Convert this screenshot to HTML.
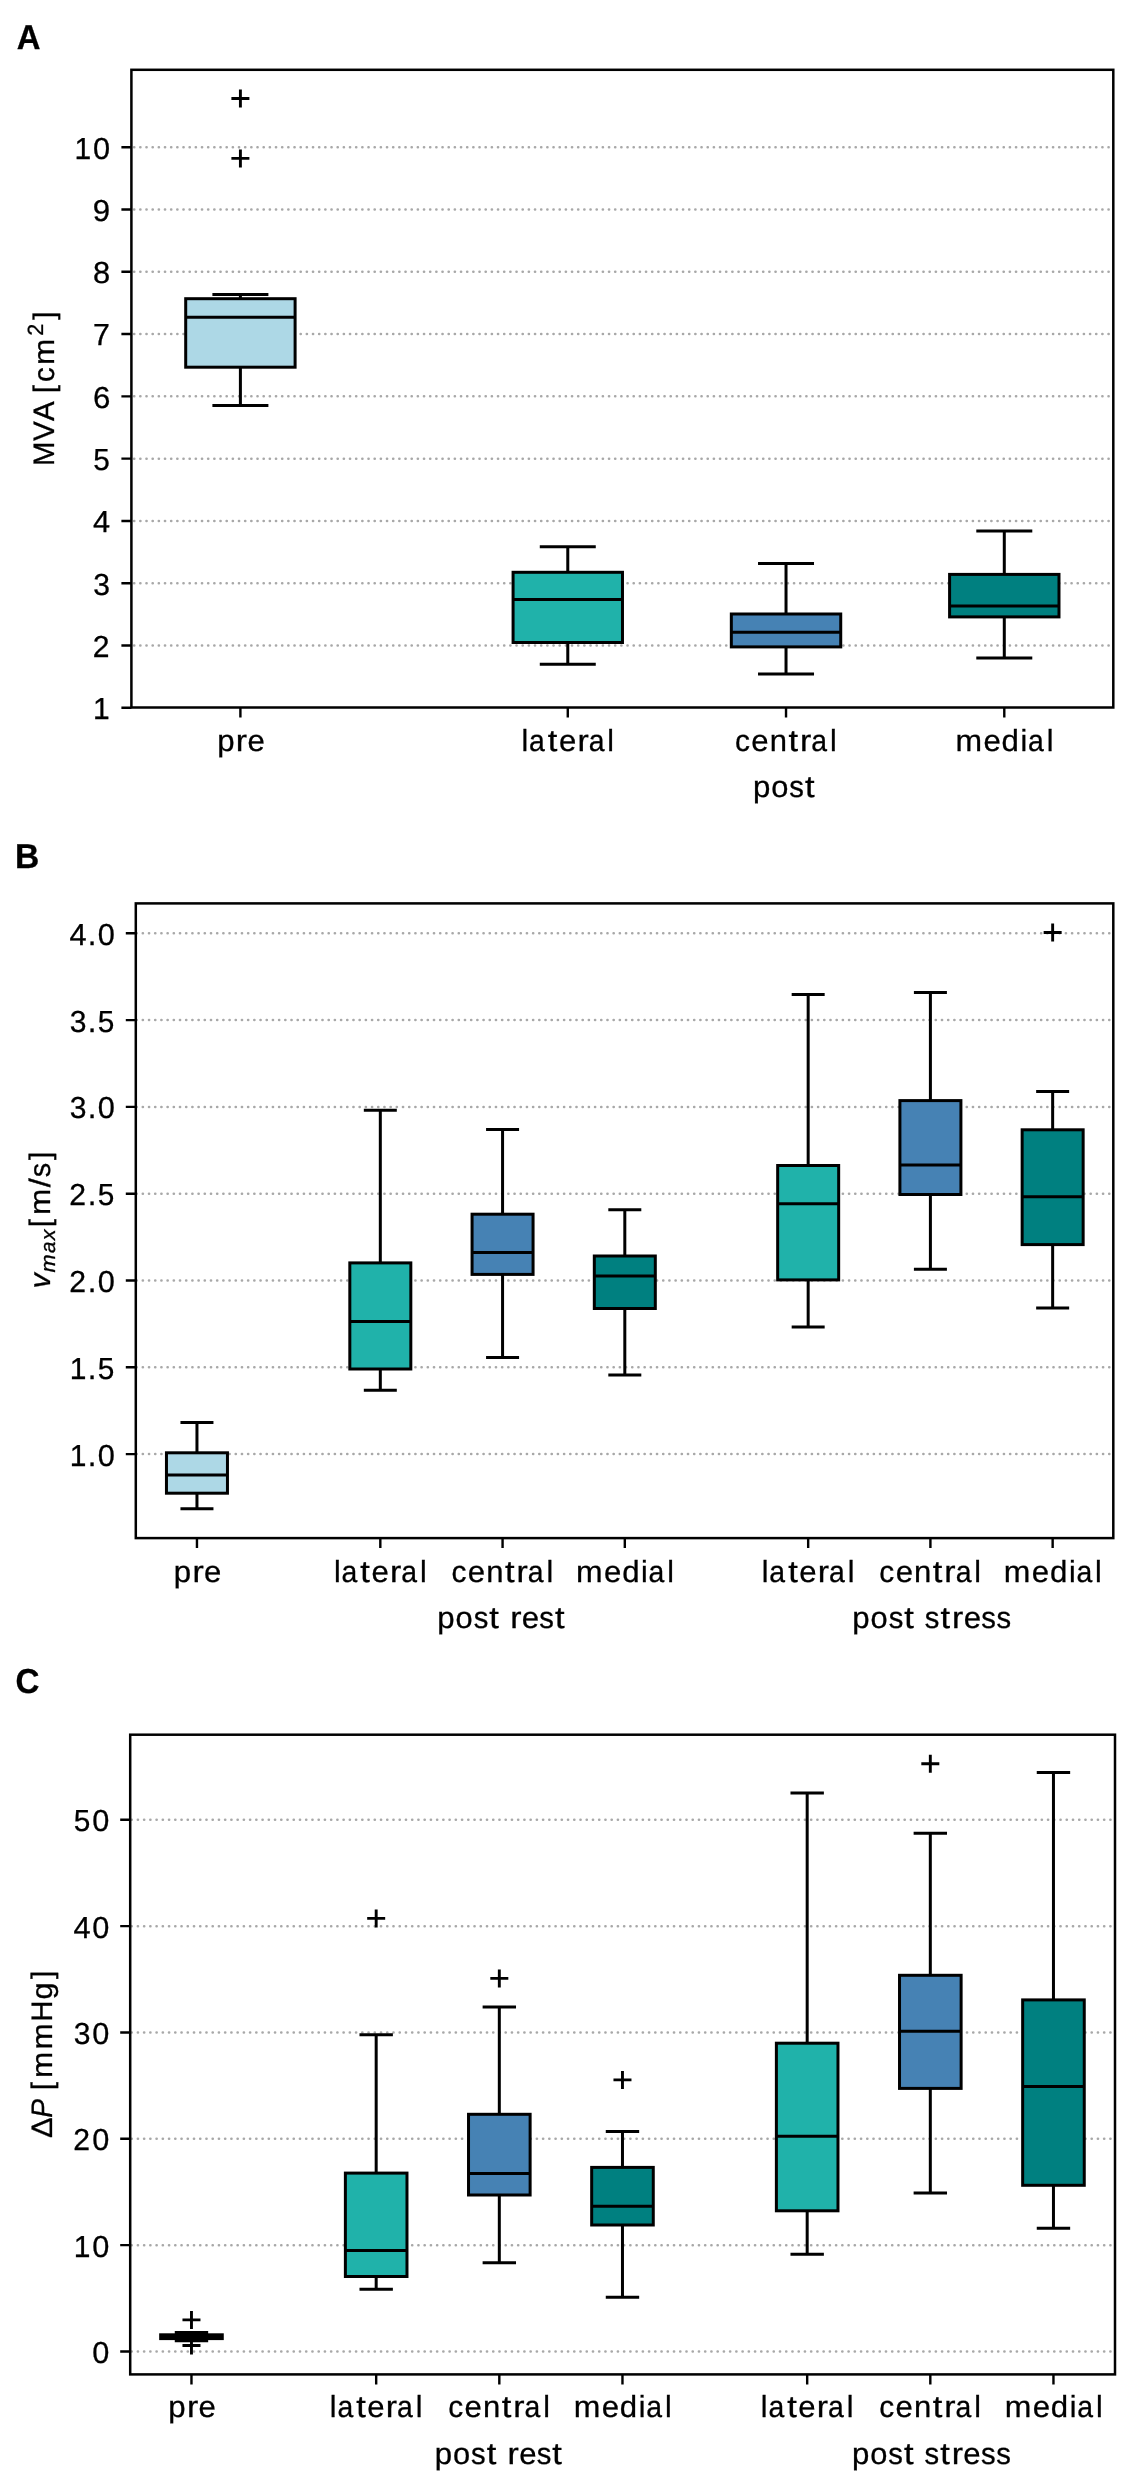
<!DOCTYPE html>
<html><head><meta charset="utf-8"><title>Boxplots</title>
<style>html,body{margin:0;padding:0;background:#fff;}svg{display:block;will-change:transform;} text{font-family:"Liberation Sans", sans-serif;fill:#000;stroke:#000;stroke-width:0.3px;text-rendering:geometricPrecision;}</style>
</head><body>
<svg width="1126" height="2480" viewBox="0 0 1126 2480" font-family="Liberation Sans, sans-serif">
<rect x="0" y="0" width="1126" height="2480" fill="#fff"/>
<line x1="131.40" y1="645.51" x2="1113.30" y2="645.51" stroke="#a8a8a8" stroke-width="2.5" stroke-dasharray="0.2 5.967" stroke-dashoffset="3.476" stroke-linecap="round"/>
<line x1="131.40" y1="583.22" x2="1113.30" y2="583.22" stroke="#a8a8a8" stroke-width="2.5" stroke-dasharray="0.2 5.967" stroke-dashoffset="3.476" stroke-linecap="round"/>
<line x1="131.40" y1="520.93" x2="1113.30" y2="520.93" stroke="#a8a8a8" stroke-width="2.5" stroke-dasharray="0.2 5.967" stroke-dashoffset="3.476" stroke-linecap="round"/>
<line x1="131.40" y1="458.64" x2="1113.30" y2="458.64" stroke="#a8a8a8" stroke-width="2.5" stroke-dasharray="0.2 5.967" stroke-dashoffset="3.476" stroke-linecap="round"/>
<line x1="131.40" y1="396.35" x2="1113.30" y2="396.35" stroke="#a8a8a8" stroke-width="2.5" stroke-dasharray="0.2 5.967" stroke-dashoffset="3.476" stroke-linecap="round"/>
<line x1="131.40" y1="334.06" x2="1113.30" y2="334.06" stroke="#a8a8a8" stroke-width="2.5" stroke-dasharray="0.2 5.967" stroke-dashoffset="3.476" stroke-linecap="round"/>
<line x1="131.40" y1="271.77" x2="1113.30" y2="271.77" stroke="#a8a8a8" stroke-width="2.5" stroke-dasharray="0.2 5.967" stroke-dashoffset="3.476" stroke-linecap="round"/>
<line x1="131.40" y1="209.48" x2="1113.30" y2="209.48" stroke="#a8a8a8" stroke-width="2.5" stroke-dasharray="0.2 5.967" stroke-dashoffset="3.476" stroke-linecap="round"/>
<line x1="131.40" y1="147.19" x2="1113.30" y2="147.19" stroke="#a8a8a8" stroke-width="2.5" stroke-dasharray="0.2 5.967" stroke-dashoffset="3.476" stroke-linecap="round"/>
<path d="M240.40 298.70V294.60M240.40 367.20V405.60M212.40 294.60H268.40M212.40 405.60H268.40" stroke="#000" stroke-width="3.0" fill="none"/>
<rect x="185.70" y="298.70" width="109.40" height="68.50" fill="#add8e6" stroke="#000" stroke-width="3.0"/>
<path d="M185.70 317.20H295.10" stroke="#000" stroke-width="3.0"/>
<path d="M231.40 98.50H249.40M240.40 89.50V107.50" stroke="#000" stroke-width="2.9"/>
<path d="M231.40 158.40H249.40M240.40 149.40V167.40" stroke="#000" stroke-width="2.9"/>
<path d="M567.78 572.30V546.80M567.78 642.50V664.30M539.78 546.80H595.78M539.78 664.30H595.78" stroke="#000" stroke-width="3.0" fill="none"/>
<rect x="513.08" y="572.30" width="109.40" height="70.20" fill="#20b2aa" stroke="#000" stroke-width="3.0"/>
<path d="M513.08 599.40H622.48" stroke="#000" stroke-width="3.0"/>
<path d="M786.03 614.00V563.40M786.03 646.90V673.90M758.03 563.40H814.03M758.03 673.90H814.03" stroke="#000" stroke-width="3.0" fill="none"/>
<rect x="731.33" y="614.00" width="109.40" height="32.90" fill="#4682b4" stroke="#000" stroke-width="3.0"/>
<path d="M731.33 632.30H840.73" stroke="#000" stroke-width="3.0"/>
<path d="M1004.29 574.40V530.90M1004.29 616.90V658.00M976.29 530.90H1032.29M976.29 658.00H1032.29" stroke="#000" stroke-width="3.0" fill="none"/>
<rect x="949.59" y="574.40" width="109.40" height="42.50" fill="#008080" stroke="#000" stroke-width="3.0"/>
<path d="M949.59 606.00H1058.99" stroke="#000" stroke-width="3.0"/>
<rect x="131.40" y="69.80" width="981.90" height="637.70" fill="none" stroke="#000" stroke-width="2.5" stroke-linejoin="miter"/>
<path d="M121.40 707.80H131.40M121.40 645.51H131.40M121.40 583.22H131.40M121.40 520.93H131.40M121.40 458.64H131.40M121.40 396.35H131.40M121.40 334.06H131.40M121.40 271.77H131.40M121.40 209.48H131.40M121.40 147.19H131.40M240.40 707.50V717.50M567.78 707.50V717.50M786.03 707.50V717.50M1004.29 707.50V717.50" stroke="#000" stroke-width="2.4"/>
<text y="719.20" font-size="30.4"><tspan x="93.10" textLength="16.68" lengthAdjust="spacingAndGlyphs">1</tspan></text>
<text y="656.91" font-size="30.4"><tspan x="92.82" textLength="16.76" lengthAdjust="spacingAndGlyphs">2</tspan></text>
<text y="594.62" font-size="30.4"><tspan x="93.26" textLength="16.73" lengthAdjust="spacingAndGlyphs">3</tspan></text>
<text y="532.33" font-size="30.4"><tspan x="93.05" textLength="17.07" lengthAdjust="spacingAndGlyphs">4</tspan></text>
<text y="470.04" font-size="30.4"><tspan x="93.18" textLength="16.58" lengthAdjust="spacingAndGlyphs">5</tspan></text>
<text y="407.75" font-size="30.4"><tspan x="92.91" textLength="17.37" lengthAdjust="spacingAndGlyphs">6</tspan></text>
<text y="345.46" font-size="30.4"><tspan x="93.09" textLength="16.88" lengthAdjust="spacingAndGlyphs">7</tspan></text>
<text y="283.17" font-size="30.4"><tspan x="93.01" textLength="17.16" lengthAdjust="spacingAndGlyphs">8</tspan></text>
<text y="220.88" font-size="30.4"><tspan x="92.82" textLength="17.35" lengthAdjust="spacingAndGlyphs">9</tspan></text>
<text y="158.59" font-size="30.4"><tspan x="74.40" textLength="16.68" lengthAdjust="spacingAndGlyphs">1</tspan><tspan x="93.05" textLength="17.07" lengthAdjust="spacingAndGlyphs">0</tspan></text>
<text y="750.70" font-size="30.4"><tspan x="217.15" textLength="17.34" lengthAdjust="spacingAndGlyphs">p</tspan><tspan x="235.87" textLength="11.27" lengthAdjust="spacingAndGlyphs">r</tspan><tspan x="247.52" textLength="17.28" lengthAdjust="spacingAndGlyphs">e</tspan></text>
<text y="750.70" font-size="30.4"><tspan x="521.47" textLength="6.72" lengthAdjust="spacingAndGlyphs">l</tspan><tspan x="528.98" textLength="15.77" lengthAdjust="spacingAndGlyphs">a</tspan><tspan x="547.80" textLength="9.60" lengthAdjust="spacingAndGlyphs">t</tspan><tspan x="558.92" textLength="17.28" lengthAdjust="spacingAndGlyphs">e</tspan><tspan x="577.45" textLength="11.27" lengthAdjust="spacingAndGlyphs">r</tspan><tspan x="588.70" textLength="15.77" lengthAdjust="spacingAndGlyphs">a</tspan><tspan x="607.37" textLength="6.72" lengthAdjust="spacingAndGlyphs">l</tspan></text>
<text y="750.70" font-size="30.4"><tspan x="734.94" textLength="14.97" lengthAdjust="spacingAndGlyphs">c</tspan><tspan x="751.32" textLength="17.28" lengthAdjust="spacingAndGlyphs">e</tspan><tspan x="769.69" textLength="17.26" lengthAdjust="spacingAndGlyphs">n</tspan><tspan x="788.45" textLength="9.60" lengthAdjust="spacingAndGlyphs">t</tspan><tspan x="800.00" textLength="11.27" lengthAdjust="spacingAndGlyphs">r</tspan><tspan x="811.26" textLength="15.77" lengthAdjust="spacingAndGlyphs">a</tspan><tspan x="829.93" textLength="6.72" lengthAdjust="spacingAndGlyphs">l</tspan></text>
<text y="750.70" font-size="30.4"><tspan x="955.52" textLength="26.58" lengthAdjust="spacingAndGlyphs">m</tspan><tspan x="983.52" textLength="17.28" lengthAdjust="spacingAndGlyphs">e</tspan><tspan x="1001.63" textLength="17.33" lengthAdjust="spacingAndGlyphs">d</tspan><tspan x="1020.54" textLength="6.72" lengthAdjust="spacingAndGlyphs">i</tspan><tspan x="1028.04" textLength="15.77" lengthAdjust="spacingAndGlyphs">a</tspan><tspan x="1046.71" textLength="6.72" lengthAdjust="spacingAndGlyphs">l</tspan></text>
<text y="797.35" font-size="30.4"><tspan x="752.91" textLength="17.34" lengthAdjust="spacingAndGlyphs">p</tspan><tspan x="771.16" textLength="17.14" lengthAdjust="spacingAndGlyphs">o</tspan><tspan x="789.26" textLength="14.63" lengthAdjust="spacingAndGlyphs">s</tspan><tspan x="804.91" textLength="9.60" lengthAdjust="spacingAndGlyphs">t</tspan></text>
<text transform="translate(16.69 48.70) scale(0.9501 1)" font-size="34.6" font-weight="bold">A</text>
<line x1="135.80" y1="1454.10" x2="1113.30" y2="1454.10" stroke="#a8a8a8" stroke-width="2.5" stroke-dasharray="0.2 5.995" stroke-dashoffset="5.440" stroke-linecap="round"/>
<line x1="135.80" y1="1367.30" x2="1113.30" y2="1367.30" stroke="#a8a8a8" stroke-width="2.5" stroke-dasharray="0.2 5.995" stroke-dashoffset="5.440" stroke-linecap="round"/>
<line x1="135.80" y1="1280.50" x2="1113.30" y2="1280.50" stroke="#a8a8a8" stroke-width="2.5" stroke-dasharray="0.2 5.995" stroke-dashoffset="5.440" stroke-linecap="round"/>
<line x1="135.80" y1="1193.70" x2="1113.30" y2="1193.70" stroke="#a8a8a8" stroke-width="2.5" stroke-dasharray="0.2 5.995" stroke-dashoffset="5.440" stroke-linecap="round"/>
<line x1="135.80" y1="1106.90" x2="1113.30" y2="1106.90" stroke="#a8a8a8" stroke-width="2.5" stroke-dasharray="0.2 5.995" stroke-dashoffset="5.440" stroke-linecap="round"/>
<line x1="135.80" y1="1020.10" x2="1113.30" y2="1020.10" stroke="#a8a8a8" stroke-width="2.5" stroke-dasharray="0.2 5.995" stroke-dashoffset="5.440" stroke-linecap="round"/>
<line x1="135.80" y1="933.30" x2="1113.30" y2="933.30" stroke="#a8a8a8" stroke-width="2.5" stroke-dasharray="0.2 5.995" stroke-dashoffset="5.440" stroke-linecap="round"/>
<path d="M196.96 1452.80V1422.40M196.96 1493.20V1508.70M180.46 1422.40H213.46M180.46 1508.70H213.46" stroke="#000" stroke-width="3.0" fill="none"/>
<rect x="166.46" y="1452.80" width="61.00" height="40.40" fill="#add8e6" stroke="#000" stroke-width="3.0"/>
<path d="M166.46 1475.10H227.46" stroke="#000" stroke-width="3.0"/>
<path d="M380.32 1262.90V1110.25M380.32 1369.00V1390.25M363.82 1110.25H396.82M363.82 1390.25H396.82" stroke="#000" stroke-width="3.0" fill="none"/>
<rect x="349.82" y="1262.90" width="61.00" height="106.10" fill="#20b2aa" stroke="#000" stroke-width="3.0"/>
<path d="M349.82 1321.50H410.82" stroke="#000" stroke-width="3.0"/>
<path d="M502.57 1214.20V1129.40M502.57 1274.40V1357.50M486.07 1129.40H519.07M486.07 1357.50H519.07" stroke="#000" stroke-width="3.0" fill="none"/>
<rect x="472.07" y="1214.20" width="61.00" height="60.20" fill="#4682b4" stroke="#000" stroke-width="3.0"/>
<path d="M472.07 1252.40H533.07" stroke="#000" stroke-width="3.0"/>
<path d="M624.81 1256.00V1209.70M624.81 1308.50V1375.10M608.31 1209.70H641.31M608.31 1375.10H641.31" stroke="#000" stroke-width="3.0" fill="none"/>
<rect x="594.31" y="1256.00" width="61.00" height="52.50" fill="#008080" stroke="#000" stroke-width="3.0"/>
<path d="M594.31 1276.00H655.31" stroke="#000" stroke-width="3.0"/>
<path d="M808.17 1165.50V994.60M808.17 1279.90V1326.90M791.67 994.60H824.67M791.67 1326.90H824.67" stroke="#000" stroke-width="3.0" fill="none"/>
<rect x="777.67" y="1165.50" width="61.00" height="114.40" fill="#20b2aa" stroke="#000" stroke-width="3.0"/>
<path d="M777.67 1203.70H838.67" stroke="#000" stroke-width="3.0"/>
<path d="M930.41 1100.60V992.50M930.41 1194.50V1269.30M913.91 992.50H946.91M913.91 1269.30H946.91" stroke="#000" stroke-width="3.0" fill="none"/>
<rect x="899.91" y="1100.60" width="61.00" height="93.90" fill="#4682b4" stroke="#000" stroke-width="3.0"/>
<path d="M899.91 1165.10H960.91" stroke="#000" stroke-width="3.0"/>
<path d="M1052.65 1129.80V1091.60M1052.65 1244.60V1308.00M1036.15 1091.60H1069.15M1036.15 1308.00H1069.15" stroke="#000" stroke-width="3.0" fill="none"/>
<rect x="1022.15" y="1129.80" width="61.00" height="114.80" fill="#008080" stroke="#000" stroke-width="3.0"/>
<path d="M1022.15 1196.70H1083.15" stroke="#000" stroke-width="3.0"/>
<path d="M1043.65 932.50H1061.65M1052.65 923.50V941.50" stroke="#000" stroke-width="2.9"/>
<rect x="135.80" y="903.40" width="977.50" height="634.70" fill="none" stroke="#000" stroke-width="2.5" stroke-linejoin="miter"/>
<path d="M125.80 1454.10H135.80M125.80 1367.30H135.80M125.80 1280.50H135.80M125.80 1193.70H135.80M125.80 1106.90H135.80M125.80 1020.10H135.80M125.80 933.30H135.80M196.96 1538.10V1548.10M380.32 1538.10V1548.10M502.57 1538.10V1548.10M624.81 1538.10V1548.10M808.17 1538.10V1548.10M930.41 1538.10V1548.10M1052.65 1538.10V1548.10" stroke="#000" stroke-width="2.4"/>
<text y="1465.50" font-size="30.4"><tspan x="69.65" textLength="16.68" lengthAdjust="spacingAndGlyphs">1</tspan><tspan x="87.84" textLength="8.64" lengthAdjust="spacingAndGlyphs">.</tspan><tspan x="97.65" textLength="17.07" lengthAdjust="spacingAndGlyphs">0</tspan></text>
<text y="1378.70" font-size="30.4"><tspan x="69.65" textLength="16.68" lengthAdjust="spacingAndGlyphs">1</tspan><tspan x="87.84" textLength="8.64" lengthAdjust="spacingAndGlyphs">.</tspan><tspan x="97.78" textLength="16.58" lengthAdjust="spacingAndGlyphs">5</tspan></text>
<text y="1291.90" font-size="30.4"><tspan x="69.37" textLength="16.76" lengthAdjust="spacingAndGlyphs">2</tspan><tspan x="87.84" textLength="8.64" lengthAdjust="spacingAndGlyphs">.</tspan><tspan x="97.65" textLength="17.07" lengthAdjust="spacingAndGlyphs">0</tspan></text>
<text y="1205.10" font-size="30.4"><tspan x="69.37" textLength="16.76" lengthAdjust="spacingAndGlyphs">2</tspan><tspan x="87.84" textLength="8.64" lengthAdjust="spacingAndGlyphs">.</tspan><tspan x="97.78" textLength="16.58" lengthAdjust="spacingAndGlyphs">5</tspan></text>
<text y="1118.30" font-size="30.4"><tspan x="69.81" textLength="16.73" lengthAdjust="spacingAndGlyphs">3</tspan><tspan x="87.84" textLength="8.64" lengthAdjust="spacingAndGlyphs">.</tspan><tspan x="97.65" textLength="17.07" lengthAdjust="spacingAndGlyphs">0</tspan></text>
<text y="1031.50" font-size="30.4"><tspan x="69.81" textLength="16.73" lengthAdjust="spacingAndGlyphs">3</tspan><tspan x="87.84" textLength="8.64" lengthAdjust="spacingAndGlyphs">.</tspan><tspan x="97.78" textLength="16.58" lengthAdjust="spacingAndGlyphs">5</tspan></text>
<text y="944.70" font-size="30.4"><tspan x="69.60" textLength="17.07" lengthAdjust="spacingAndGlyphs">4</tspan><tspan x="87.84" textLength="8.64" lengthAdjust="spacingAndGlyphs">.</tspan><tspan x="97.65" textLength="17.07" lengthAdjust="spacingAndGlyphs">0</tspan></text>
<text y="1581.60" font-size="30.4"><tspan x="173.71" textLength="17.34" lengthAdjust="spacingAndGlyphs">p</tspan><tspan x="192.43" textLength="11.27" lengthAdjust="spacingAndGlyphs">r</tspan><tspan x="204.08" textLength="17.28" lengthAdjust="spacingAndGlyphs">e</tspan></text>
<text y="1581.60" font-size="30.4"><tspan x="334.02" textLength="6.72" lengthAdjust="spacingAndGlyphs">l</tspan><tspan x="341.53" textLength="15.77" lengthAdjust="spacingAndGlyphs">a</tspan><tspan x="360.34" textLength="9.60" lengthAdjust="spacingAndGlyphs">t</tspan><tspan x="371.46" textLength="17.28" lengthAdjust="spacingAndGlyphs">e</tspan><tspan x="389.99" textLength="11.27" lengthAdjust="spacingAndGlyphs">r</tspan><tspan x="401.25" textLength="15.77" lengthAdjust="spacingAndGlyphs">a</tspan><tspan x="419.92" textLength="6.72" lengthAdjust="spacingAndGlyphs">l</tspan></text>
<text y="1581.60" font-size="30.4"><tspan x="451.48" textLength="14.97" lengthAdjust="spacingAndGlyphs">c</tspan><tspan x="467.85" textLength="17.28" lengthAdjust="spacingAndGlyphs">e</tspan><tspan x="486.22" textLength="17.26" lengthAdjust="spacingAndGlyphs">n</tspan><tspan x="504.98" textLength="9.60" lengthAdjust="spacingAndGlyphs">t</tspan><tspan x="516.54" textLength="11.27" lengthAdjust="spacingAndGlyphs">r</tspan><tspan x="527.79" textLength="15.77" lengthAdjust="spacingAndGlyphs">a</tspan><tspan x="546.47" textLength="6.72" lengthAdjust="spacingAndGlyphs">l</tspan></text>
<text y="1581.60" font-size="30.4"><tspan x="576.04" textLength="26.58" lengthAdjust="spacingAndGlyphs">m</tspan><tspan x="604.04" textLength="17.28" lengthAdjust="spacingAndGlyphs">e</tspan><tspan x="622.15" textLength="17.33" lengthAdjust="spacingAndGlyphs">d</tspan><tspan x="641.07" textLength="6.72" lengthAdjust="spacingAndGlyphs">i</tspan><tspan x="648.57" textLength="15.77" lengthAdjust="spacingAndGlyphs">a</tspan><tspan x="667.24" textLength="6.72" lengthAdjust="spacingAndGlyphs">l</tspan></text>
<text y="1581.60" font-size="30.4"><tspan x="761.86" textLength="6.72" lengthAdjust="spacingAndGlyphs">l</tspan><tspan x="769.37" textLength="15.77" lengthAdjust="spacingAndGlyphs">a</tspan><tspan x="788.19" textLength="9.60" lengthAdjust="spacingAndGlyphs">t</tspan><tspan x="799.31" textLength="17.28" lengthAdjust="spacingAndGlyphs">e</tspan><tspan x="817.84" textLength="11.27" lengthAdjust="spacingAndGlyphs">r</tspan><tspan x="829.09" textLength="15.77" lengthAdjust="spacingAndGlyphs">a</tspan><tspan x="847.76" textLength="6.72" lengthAdjust="spacingAndGlyphs">l</tspan></text>
<text y="1581.60" font-size="30.4"><tspan x="879.32" textLength="14.97" lengthAdjust="spacingAndGlyphs">c</tspan><tspan x="895.70" textLength="17.28" lengthAdjust="spacingAndGlyphs">e</tspan><tspan x="914.07" textLength="17.26" lengthAdjust="spacingAndGlyphs">n</tspan><tspan x="932.83" textLength="9.60" lengthAdjust="spacingAndGlyphs">t</tspan><tspan x="944.39" textLength="11.27" lengthAdjust="spacingAndGlyphs">r</tspan><tspan x="955.64" textLength="15.77" lengthAdjust="spacingAndGlyphs">a</tspan><tspan x="974.31" textLength="6.72" lengthAdjust="spacingAndGlyphs">l</tspan></text>
<text y="1581.60" font-size="30.4"><tspan x="1003.89" textLength="26.58" lengthAdjust="spacingAndGlyphs">m</tspan><tspan x="1031.89" textLength="17.28" lengthAdjust="spacingAndGlyphs">e</tspan><tspan x="1050.00" textLength="17.33" lengthAdjust="spacingAndGlyphs">d</tspan><tspan x="1068.91" textLength="6.72" lengthAdjust="spacingAndGlyphs">i</tspan><tspan x="1076.41" textLength="15.77" lengthAdjust="spacingAndGlyphs">a</tspan><tspan x="1095.08" textLength="6.72" lengthAdjust="spacingAndGlyphs">l</tspan></text>
<text y="1627.50" font-size="30.4"><tspan x="437.30" textLength="17.34" lengthAdjust="spacingAndGlyphs">p</tspan><tspan x="455.55" textLength="17.14" lengthAdjust="spacingAndGlyphs">o</tspan><tspan x="473.65" textLength="14.63" lengthAdjust="spacingAndGlyphs">s</tspan><tspan x="489.30" textLength="9.60" lengthAdjust="spacingAndGlyphs">t</tspan><tspan x="498.90"> </tspan><tspan x="510.20" textLength="11.27" lengthAdjust="spacingAndGlyphs">r</tspan><tspan x="521.85" textLength="17.28" lengthAdjust="spacingAndGlyphs">e</tspan><tspan x="539.37" textLength="14.63" lengthAdjust="spacingAndGlyphs">s</tspan><tspan x="555.02" textLength="9.60" lengthAdjust="spacingAndGlyphs">t</tspan></text>
<text y="1627.50" font-size="30.4"><tspan x="852.30" textLength="17.34" lengthAdjust="spacingAndGlyphs">p</tspan><tspan x="870.55" textLength="17.14" lengthAdjust="spacingAndGlyphs">o</tspan><tspan x="888.65" textLength="14.63" lengthAdjust="spacingAndGlyphs">s</tspan><tspan x="904.30" textLength="9.60" lengthAdjust="spacingAndGlyphs">t</tspan><tspan x="913.90"> </tspan><tspan x="924.84" textLength="14.63" lengthAdjust="spacingAndGlyphs">s</tspan><tspan x="940.49" textLength="9.60" lengthAdjust="spacingAndGlyphs">t</tspan><tspan x="952.04" textLength="11.27" lengthAdjust="spacingAndGlyphs">r</tspan><tspan x="963.69" textLength="17.28" lengthAdjust="spacingAndGlyphs">e</tspan><tspan x="981.21" textLength="14.63" lengthAdjust="spacingAndGlyphs">s</tspan><tspan x="996.53" textLength="14.63" lengthAdjust="spacingAndGlyphs">s</tspan></text>
<text transform="translate(14.95 868.40) scale(0.9711 1)" font-size="34.6" font-weight="bold">B</text>
<line x1="130.20" y1="2351.50" x2="1115.00" y2="2351.50" stroke="#a8a8a8" stroke-width="2.5" stroke-dasharray="0.2 6.034" stroke-dashoffset="4.862" stroke-linecap="round"/>
<line x1="130.20" y1="2245.16" x2="1115.00" y2="2245.16" stroke="#a8a8a8" stroke-width="2.5" stroke-dasharray="0.2 6.034" stroke-dashoffset="4.862" stroke-linecap="round"/>
<line x1="130.20" y1="2138.82" x2="1115.00" y2="2138.82" stroke="#a8a8a8" stroke-width="2.5" stroke-dasharray="0.2 6.034" stroke-dashoffset="4.862" stroke-linecap="round"/>
<line x1="130.20" y1="2032.48" x2="1115.00" y2="2032.48" stroke="#a8a8a8" stroke-width="2.5" stroke-dasharray="0.2 6.034" stroke-dashoffset="4.862" stroke-linecap="round"/>
<line x1="130.20" y1="1926.14" x2="1115.00" y2="1926.14" stroke="#a8a8a8" stroke-width="2.5" stroke-dasharray="0.2 6.034" stroke-dashoffset="4.862" stroke-linecap="round"/>
<line x1="130.20" y1="1819.80" x2="1115.00" y2="1819.80" stroke="#a8a8a8" stroke-width="2.5" stroke-dasharray="0.2 6.034" stroke-dashoffset="4.862" stroke-linecap="round"/>
<path d="M191.47 2334.80V2332.60M191.47 2338.60V2340.80M174.77 2332.60H208.17M174.77 2340.80H208.17" stroke="#000" stroke-width="3.0" fill="none"/>
<rect x="160.67" y="2334.80" width="61.60" height="3.80" fill="#add8e6" stroke="#000" stroke-width="3.0"/>
<path d="M160.67 2336.70H222.27" stroke="#000" stroke-width="3.0"/>
<path d="M182.47 2319.90H200.47M191.47 2310.90V2328.90" stroke="#000" stroke-width="2.9"/>
<path d="M182.47 2345.50H200.47M191.47 2336.50V2354.50" stroke="#000" stroke-width="2.9"/>
<path d="M376.18 2173.10V2034.80M376.18 2276.50V2289.30M359.48 2034.80H392.88M359.48 2289.30H392.88" stroke="#000" stroke-width="3.0" fill="none"/>
<rect x="345.38" y="2173.10" width="61.60" height="103.40" fill="#20b2aa" stroke="#000" stroke-width="3.0"/>
<path d="M345.38 2250.40H406.98" stroke="#000" stroke-width="3.0"/>
<path d="M367.18 1918.40H385.18M376.18 1909.40V1927.40" stroke="#000" stroke-width="2.9"/>
<path d="M499.32 2114.30V2007.00M499.32 2195.00V2262.80M482.62 2007.00H516.02M482.62 2262.80H516.02" stroke="#000" stroke-width="3.0" fill="none"/>
<rect x="468.52" y="2114.30" width="61.60" height="80.70" fill="#4682b4" stroke="#000" stroke-width="3.0"/>
<path d="M468.52 2173.50H530.12" stroke="#000" stroke-width="3.0"/>
<path d="M490.32 1978.40H508.32M499.32 1969.40V1987.40" stroke="#000" stroke-width="2.9"/>
<path d="M622.47 2167.40V2131.60M622.47 2225.00V2297.20M605.77 2131.60H639.17M605.77 2297.20H639.17" stroke="#000" stroke-width="3.0" fill="none"/>
<rect x="591.67" y="2167.40" width="61.60" height="57.60" fill="#008080" stroke="#000" stroke-width="3.0"/>
<path d="M591.67 2206.20H653.27" stroke="#000" stroke-width="3.0"/>
<path d="M613.47 2079.90H631.47M622.47 2070.90V2088.90" stroke="#000" stroke-width="2.9"/>
<path d="M807.18 2043.20V1793.10M807.18 2210.80V2254.30M790.48 1793.10H823.88M790.48 2254.30H823.88" stroke="#000" stroke-width="3.0" fill="none"/>
<rect x="776.38" y="2043.20" width="61.60" height="167.60" fill="#20b2aa" stroke="#000" stroke-width="3.0"/>
<path d="M776.38 2136.30H837.98" stroke="#000" stroke-width="3.0"/>
<path d="M930.32 1975.30V1833.20M930.32 2088.40V2193.10M913.62 1833.20H947.02M913.62 2193.10H947.02" stroke="#000" stroke-width="3.0" fill="none"/>
<rect x="899.52" y="1975.30" width="61.60" height="113.10" fill="#4682b4" stroke="#000" stroke-width="3.0"/>
<path d="M899.52 2031.30H961.12" stroke="#000" stroke-width="3.0"/>
<path d="M921.32 1763.70H939.32M930.32 1754.70V1772.70" stroke="#000" stroke-width="2.9"/>
<path d="M1053.46 1999.90V1772.60M1053.46 2185.30V2228.20M1036.76 1772.60H1070.16M1036.76 2228.20H1070.16" stroke="#000" stroke-width="3.0" fill="none"/>
<rect x="1022.66" y="1999.90" width="61.60" height="185.40" fill="#008080" stroke="#000" stroke-width="3.0"/>
<path d="M1022.66 2086.50H1084.26" stroke="#000" stroke-width="3.0"/>
<rect x="130.20" y="1734.70" width="984.80" height="639.70" fill="none" stroke="#000" stroke-width="2.5" stroke-linejoin="miter"/>
<path d="M120.20 2351.50H130.20M120.20 2245.16H130.20M120.20 2138.82H130.20M120.20 2032.48H130.20M120.20 1926.14H130.20M120.20 1819.80H130.20M191.47 2374.40V2384.40M376.18 2374.40V2384.40M499.32 2374.40V2384.40M622.47 2374.40V2384.40M807.18 2374.40V2384.40M930.32 2374.40V2384.40M1053.46 2374.40V2384.40" stroke="#000" stroke-width="2.4"/>
<text y="2362.90" font-size="30.4"><tspan x="92.30" textLength="17.07" lengthAdjust="spacingAndGlyphs">0</tspan></text>
<text y="2256.56" font-size="30.4"><tspan x="73.65" textLength="16.68" lengthAdjust="spacingAndGlyphs">1</tspan><tspan x="92.30" textLength="17.07" lengthAdjust="spacingAndGlyphs">0</tspan></text>
<text y="2150.22" font-size="30.4"><tspan x="73.37" textLength="16.76" lengthAdjust="spacingAndGlyphs">2</tspan><tspan x="92.30" textLength="17.07" lengthAdjust="spacingAndGlyphs">0</tspan></text>
<text y="2043.88" font-size="30.4"><tspan x="73.81" textLength="16.73" lengthAdjust="spacingAndGlyphs">3</tspan><tspan x="92.30" textLength="17.07" lengthAdjust="spacingAndGlyphs">0</tspan></text>
<text y="1937.54" font-size="30.4"><tspan x="73.60" textLength="17.07" lengthAdjust="spacingAndGlyphs">4</tspan><tspan x="92.30" textLength="17.07" lengthAdjust="spacingAndGlyphs">0</tspan></text>
<text y="1831.20" font-size="30.4"><tspan x="73.73" textLength="16.58" lengthAdjust="spacingAndGlyphs">5</tspan><tspan x="92.30" textLength="17.07" lengthAdjust="spacingAndGlyphs">0</tspan></text>
<text y="2416.60" font-size="30.4"><tspan x="168.21" textLength="17.34" lengthAdjust="spacingAndGlyphs">p</tspan><tspan x="186.94" textLength="11.27" lengthAdjust="spacingAndGlyphs">r</tspan><tspan x="198.59" textLength="17.28" lengthAdjust="spacingAndGlyphs">e</tspan></text>
<text y="2416.60" font-size="30.4"><tspan x="329.87" textLength="6.72" lengthAdjust="spacingAndGlyphs">l</tspan><tspan x="337.38" textLength="15.77" lengthAdjust="spacingAndGlyphs">a</tspan><tspan x="356.20" textLength="9.60" lengthAdjust="spacingAndGlyphs">t</tspan><tspan x="367.32" textLength="17.28" lengthAdjust="spacingAndGlyphs">e</tspan><tspan x="385.85" textLength="11.27" lengthAdjust="spacingAndGlyphs">r</tspan><tspan x="397.10" textLength="15.77" lengthAdjust="spacingAndGlyphs">a</tspan><tspan x="415.78" textLength="6.72" lengthAdjust="spacingAndGlyphs">l</tspan></text>
<text y="2416.60" font-size="30.4"><tspan x="448.24" textLength="14.97" lengthAdjust="spacingAndGlyphs">c</tspan><tspan x="464.61" textLength="17.28" lengthAdjust="spacingAndGlyphs">e</tspan><tspan x="482.98" textLength="17.26" lengthAdjust="spacingAndGlyphs">n</tspan><tspan x="501.74" textLength="9.60" lengthAdjust="spacingAndGlyphs">t</tspan><tspan x="513.30" textLength="11.27" lengthAdjust="spacingAndGlyphs">r</tspan><tspan x="524.55" textLength="15.77" lengthAdjust="spacingAndGlyphs">a</tspan><tspan x="543.22" textLength="6.72" lengthAdjust="spacingAndGlyphs">l</tspan></text>
<text y="2416.60" font-size="30.4"><tspan x="573.70" textLength="26.58" lengthAdjust="spacingAndGlyphs">m</tspan><tspan x="601.70" textLength="17.28" lengthAdjust="spacingAndGlyphs">e</tspan><tspan x="619.81" textLength="17.33" lengthAdjust="spacingAndGlyphs">d</tspan><tspan x="638.72" textLength="6.72" lengthAdjust="spacingAndGlyphs">i</tspan><tspan x="646.22" textLength="15.77" lengthAdjust="spacingAndGlyphs">a</tspan><tspan x="664.89" textLength="6.72" lengthAdjust="spacingAndGlyphs">l</tspan></text>
<text y="2416.60" font-size="30.4"><tspan x="760.87" textLength="6.72" lengthAdjust="spacingAndGlyphs">l</tspan><tspan x="768.38" textLength="15.77" lengthAdjust="spacingAndGlyphs">a</tspan><tspan x="787.20" textLength="9.60" lengthAdjust="spacingAndGlyphs">t</tspan><tspan x="798.32" textLength="17.28" lengthAdjust="spacingAndGlyphs">e</tspan><tspan x="816.84" textLength="11.27" lengthAdjust="spacingAndGlyphs">r</tspan><tspan x="828.10" textLength="15.77" lengthAdjust="spacingAndGlyphs">a</tspan><tspan x="846.77" textLength="6.72" lengthAdjust="spacingAndGlyphs">l</tspan></text>
<text y="2416.60" font-size="30.4"><tspan x="879.23" textLength="14.97" lengthAdjust="spacingAndGlyphs">c</tspan><tspan x="895.60" textLength="17.28" lengthAdjust="spacingAndGlyphs">e</tspan><tspan x="913.98" textLength="17.26" lengthAdjust="spacingAndGlyphs">n</tspan><tspan x="932.73" textLength="9.60" lengthAdjust="spacingAndGlyphs">t</tspan><tspan x="944.29" textLength="11.27" lengthAdjust="spacingAndGlyphs">r</tspan><tspan x="955.55" textLength="15.77" lengthAdjust="spacingAndGlyphs">a</tspan><tspan x="974.22" textLength="6.72" lengthAdjust="spacingAndGlyphs">l</tspan></text>
<text y="2416.60" font-size="30.4"><tspan x="1004.70" textLength="26.58" lengthAdjust="spacingAndGlyphs">m</tspan><tspan x="1032.69" textLength="17.28" lengthAdjust="spacingAndGlyphs">e</tspan><tspan x="1050.81" textLength="17.33" lengthAdjust="spacingAndGlyphs">d</tspan><tspan x="1069.72" textLength="6.72" lengthAdjust="spacingAndGlyphs">i</tspan><tspan x="1077.22" textLength="15.77" lengthAdjust="spacingAndGlyphs">a</tspan><tspan x="1095.89" textLength="6.72" lengthAdjust="spacingAndGlyphs">l</tspan></text>
<text y="2463.70" font-size="30.4"><tspan x="434.65" textLength="17.34" lengthAdjust="spacingAndGlyphs">p</tspan><tspan x="452.90" textLength="17.14" lengthAdjust="spacingAndGlyphs">o</tspan><tspan x="471.00" textLength="14.63" lengthAdjust="spacingAndGlyphs">s</tspan><tspan x="486.65" textLength="9.60" lengthAdjust="spacingAndGlyphs">t</tspan><tspan x="496.25"> </tspan><tspan x="507.55" textLength="11.27" lengthAdjust="spacingAndGlyphs">r</tspan><tspan x="519.20" textLength="17.28" lengthAdjust="spacingAndGlyphs">e</tspan><tspan x="536.72" textLength="14.63" lengthAdjust="spacingAndGlyphs">s</tspan><tspan x="552.37" textLength="9.60" lengthAdjust="spacingAndGlyphs">t</tspan></text>
<text y="2463.60" font-size="30.4"><tspan x="852.00" textLength="17.34" lengthAdjust="spacingAndGlyphs">p</tspan><tspan x="870.25" textLength="17.14" lengthAdjust="spacingAndGlyphs">o</tspan><tspan x="888.35" textLength="14.63" lengthAdjust="spacingAndGlyphs">s</tspan><tspan x="904.00" textLength="9.60" lengthAdjust="spacingAndGlyphs">t</tspan><tspan x="913.60"> </tspan><tspan x="924.54" textLength="14.63" lengthAdjust="spacingAndGlyphs">s</tspan><tspan x="940.19" textLength="9.60" lengthAdjust="spacingAndGlyphs">t</tspan><tspan x="951.74" textLength="11.27" lengthAdjust="spacingAndGlyphs">r</tspan><tspan x="963.39" textLength="17.28" lengthAdjust="spacingAndGlyphs">e</tspan><tspan x="980.91" textLength="14.63" lengthAdjust="spacingAndGlyphs">s</tspan><tspan x="996.23" textLength="14.63" lengthAdjust="spacingAndGlyphs">s</tspan></text>
<text transform="translate(15.46 1692.60) scale(0.9593 1)" font-size="34.6" font-weight="bold">C</text>
<g transform="translate(54.10 463.60) rotate(-90)"><text y="0.00" font-size="29.6"><tspan x="-2.48" textLength="24.50" lengthAdjust="spacingAndGlyphs">M</tspan><tspan x="22.52" textLength="19.79" lengthAdjust="spacingAndGlyphs">V</tspan><tspan x="42.61" textLength="19.71" lengthAdjust="spacingAndGlyphs">A</tspan><tspan x="62.32"> </tspan><tspan x="70.35" textLength="8.35" lengthAdjust="spacingAndGlyphs">[</tspan><tspan x="81.70" textLength="14.75" lengthAdjust="spacingAndGlyphs">c</tspan><tspan x="98.73" textLength="26.19" lengthAdjust="spacingAndGlyphs">m</tspan></text><text y="-11.00" font-size="22.0"><tspan x="127.74" textLength="12.05" lengthAdjust="spacingAndGlyphs">2</tspan></text><text y="0.00" font-size="29.6"><tspan x="143.81" textLength="8.35" lengthAdjust="spacingAndGlyphs">]</tspan></text></g>
<g transform="translate(50.20 1287.70) rotate(-90)"><text y="0.00" font-size="29.6" font-style="italic"><tspan x="-0.92" textLength="15.30" lengthAdjust="spacingAndGlyphs">v</tspan></text><text y="4.90" font-size="20.6" font-style="italic"><tspan x="15.23" textLength="18.16" lengthAdjust="spacingAndGlyphs">m</tspan><tspan x="34.64" textLength="11.47" lengthAdjust="spacingAndGlyphs">a</tspan><tspan x="47.35" textLength="10.75" lengthAdjust="spacingAndGlyphs">x</tspan></text><text y="0.00" font-size="29.6"><tspan x="60.40" textLength="8.35" lengthAdjust="spacingAndGlyphs">[</tspan><tspan x="72.67" textLength="26.19" lengthAdjust="spacingAndGlyphs">m</tspan><tspan x="100.39" textLength="9.01" lengthAdjust="spacingAndGlyphs">/</tspan><tspan x="110.45" textLength="14.42" lengthAdjust="spacingAndGlyphs">s</tspan><tspan x="127.75" textLength="8.35" lengthAdjust="spacingAndGlyphs">]</tspan></text></g>
<g transform="translate(52.30 2137.40) rotate(-90)"><text y="0.00" font-size="29.6"><tspan x="-0.52" textLength="20.62" lengthAdjust="spacingAndGlyphs">Δ</tspan></text><text y="0.00" font-size="29.6" font-style="italic"><tspan x="19.59" textLength="18.75" lengthAdjust="spacingAndGlyphs">P</tspan></text><text y="0.00" font-size="29.6"><tspan x="47.10" textLength="8.35" lengthAdjust="spacingAndGlyphs">[</tspan><tspan x="59.37" textLength="26.19" lengthAdjust="spacingAndGlyphs">m</tspan><tspan x="87.91" textLength="26.19" lengthAdjust="spacingAndGlyphs">m</tspan><tspan x="115.60" textLength="21.21" lengthAdjust="spacingAndGlyphs">H</tspan><tspan x="137.81" textLength="17.07" lengthAdjust="spacingAndGlyphs">g</tspan><tspan x="158.49" textLength="8.35" lengthAdjust="spacingAndGlyphs">]</tspan></text></g>
</svg>
</body></html>
